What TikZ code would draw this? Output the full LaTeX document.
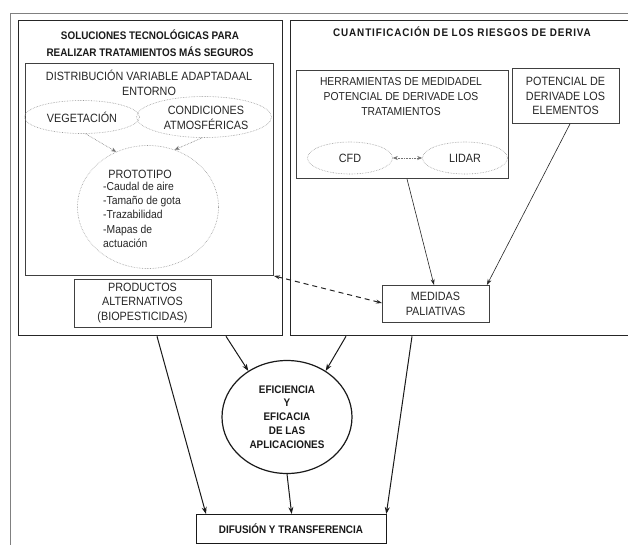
\documentclass[tikz,border=0pt]{standalone}
\usepackage{fontspec}
\setmainfont{Liberation Sans}[FakeStretch=0.9]
\usetikzlibrary{shapes.geometric,arrows.meta,calc}
\begin{document}
\begin{tikzpicture}[x=1pt,y=-1pt,
  bigbox/.style={draw=black!85,line width=1.3pt,inner sep=0,anchor=north west},
  box/.style={draw=black!75,line width=0.9pt,inner sep=0,anchor=north west},
  dotel/.style={ellipse,draw=black!40,densely dotted,line width=0.6pt,inner sep=0},
  txt/.style={font=\fontsize{12}{14.5}\selectfont,align=center,inner sep=0,text=black!85},
  ltxt/.style={font=\fontsize{11.5}{14.2}\selectfont,align=left,inner sep=0,text=black!85},
  btxt/.style={font=\bfseries\fontsize{11}{17}\selectfont,align=center,inner sep=0,text=black!90},
  sbtxt/.style={font=\bfseries\fontsize{11}{13.8}\selectfont,align=center,inner sep=0,text=black!90},
  arr/.style={-{Stealth[length=6pt,width=4pt]},line width=0.6pt,black!85},
  barr/.style={-{Stealth[length=7pt,width=5pt]},line width=1pt,black!90},
  darr/.style={-{Stealth[length=5pt,width=4pt]},densely dotted,line width=0.6pt,black!55},
  ddarr/.style={{Stealth[length=5pt,width=4pt]}-{Stealth[length=5pt,width=4pt]},densely dotted,line width=0.6pt,black!55},
  dasharr/.style={{Stealth[length=6pt,width=4pt]}-{Stealth[length=6pt,width=4pt]},dash pattern=on 5pt off 4pt,line width=1pt,black!85}
]
\useasboundingbox (0,0) rectangle (628,544);
\fill[white] (0,0) rectangle (628,544);
\draw[black!50,line width=1pt] (10,560) -- (10,13) -- (640,13);

% big boxes
\node[bigbox,minimum width=264,minimum height=315] (lbox) at (18,20) {};
\node[bigbox,minimum width=360,minimum height=315] (rbox) at (290,20) {};

\node[btxt] (ltitle) at (150,43.5) {SOLUCIONES TECNOLÓGICAS PARA\\REALIZAR TRATAMIENTOS MÁS SEGUROS};
\node[btxt] (rtitle) at (462,32) {\addfontfeatures{LetterSpace=8}CUANTIFICACIÓN DE LOS RIESGOS DE DERIVA};

% distribucion box
\node[box,minimum width=248,minimum height=212] (dbox) at (25,63) {};
\node[txt] (dtitle) at (149,83) {DISTRIBUCIÓN VARIABLE ADAPTADAAL\\ENTORNO};
\node[dotel,minimum width=115,minimum height=33] (veg) at (82,117) {};
\node[txt] (vegt) at (82,117) {VEGETACIÓN};
\node[dotel,minimum width=135,minimum height=41] (cond) at (204,117) {};
\node[txt] (condt) at (206,118) {CONDICIONES\\ATMOSFÉRICAS};
\node[dotel,minimum width=141,minimum height=123] (proto) at (148,207) {};
\node[txt] (protot) at (140,174) {PROTOTIPO};
\node[ltxt,anchor=north west] (protol) at (103,182) {-Caudal de aire\\-Tamaño de gota\\-Trazabilidad\\-Mapas de\\actuación};
\draw[darr] (veg.-78) -- (proto.120);
\draw[darr] (cond.-95) -- (proto.65);

% productos
\node[box,minimum width=137,minimum height=48] (prod) at (74,279) {};
\node[txt] (prodt) at (142.5,303) {PRODUCTOS\\ALTERNATIVOS\\(BIOPESTICIDAS)};

% herramientas
\node[box,minimum width=212,minimum height=108] (herr) at (296,70) {};
\node[txt,font=\fontsize{11.5}{15}\selectfont] (herrt) at (401,97) {HERRAMIENTAS DE MEDIDADEL\\POTENCIAL DE DERIVADE LOS\\TRATAMIENTOS};
\node[dotel,minimum width=85,minimum height=32] (cfd) at (350,158) {};
\node[txt] (cfdt) at (350,158) {CFD};
\node[dotel,minimum width=85,minimum height=32] (lidar) at (465,158) {};
\node[txt] (lidart) at (465,158) {LIDAR};
\draw[ddarr] (cfd) -- (lidar);

% potencial
\node[box,minimum width=107,minimum height=55] (pot) at (512,68) {};
\node[txt] (pott) at (565.5,96) {POTENCIAL DE\\DERIVADE LOS\\ELEMENTOS};

% medidas
\node[box,minimum width=107,minimum height=37] (med) at (382,285) {};
\node[txt] (medt) at (435.5,304) {MEDIDAS\\PALIATIVAS};

\draw[arr] ([xshift=111pt]herr.south west) -- ([xshift=52pt]med.north west);
\draw[arr] ([xshift=58pt]pot.south west) -- ([xshift=-3pt]med.north east);
\draw[dasharr] (dbox.south east) -- ([yshift=-18pt]med.north west);

% eficiencia
\node[ellipse,draw=black!90,line width=1.2pt,minimum width=130,minimum height=113,inner sep=0] (efi) at (287,417) {};
\node[sbtxt] (efit) at (287,417) {EFICIENCIA\\Y\\EFICACIA\\DE LAS\\APLICACIONES};

% difusion
\node[box,draw=black!90,line width=1.3pt,minimum width=190,minimum height=29] (dif) at (196,514) {};
\node[sbtxt] (dift) at (291,528.5) {DIFUSIÓN Y TRANSFERENCIA};

\draw[barr] ([xshift=139pt]lbox.south west) -- ([xshift=10pt]dif.north west);
\draw[barr] ([xshift=208pt]lbox.south west) -- (efi.130);
\draw[barr] ([xshift=56pt]rbox.south west) -- (efi.50);
\draw[barr] ([xshift=122pt]rbox.south west) -- ([xshift=-1pt]dif.north east);
\draw[barr] (efi.south) -- (dif.north);
\end{tikzpicture}
\end{document}
